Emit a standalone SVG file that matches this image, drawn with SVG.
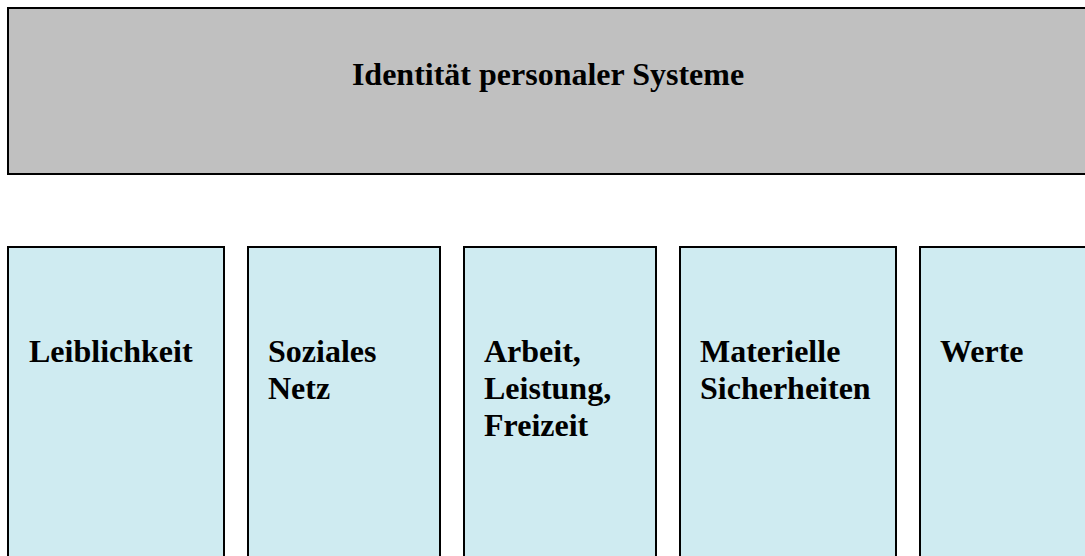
<svg xmlns="http://www.w3.org/2000/svg" width="1085" height="556" viewBox="0 0 1085 556">
<style>
.box{stroke:#000;stroke-width:2}
.top{fill:#C0C0C0}
.sub{fill:#CFEBF1}
text{font-family:"Liberation Serif","Times New Roman",serif;font-weight:bold;font-size:32px;fill:#000}
</style>
<rect width="1085" height="556" fill="#fff"/>
<g id="identitaet">
<rect class="box top" x="8" y="8" width="1090" height="166"/>
<text x="548" y="85" text-anchor="middle">Identität personaler Systeme</text>
</g>
<g id="connectors"></g>
<g id="leiblichkeit">
<rect class="box sub" x="8" y="247" width="216" height="320"/>
<text x="29" y="362">Leiblichkeit</text>
</g>
<g id="soziales-netz">
<rect class="box sub" x="248" y="247" width="192" height="320"/>
<text x="268" y="362">Soziales</text>
<text x="268" y="399">Netz</text>
</g>
<g id="arbeit">
<rect class="box sub" x="464" y="247" width="192" height="320"/>
<text x="484" y="362">Arbeit,</text>
<text x="484" y="399">Leistung,</text>
<text x="484" y="436">Freizeit</text>
</g>
<g id="materielle">
<rect class="box sub" x="680" y="247" width="216" height="320"/>
<text x="700" y="362">Materielle</text>
<text x="700" y="399">Sicherheiten</text>
</g>
<g id="werte">
<rect class="box sub" x="920" y="247" width="200" height="320"/>
<text x="940" y="362">Werte</text>
</g>
</svg>
